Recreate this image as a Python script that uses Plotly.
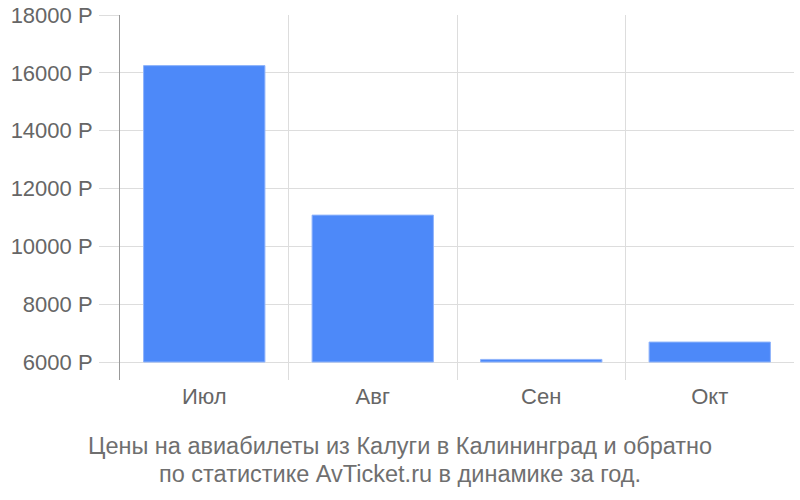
import plotly.graph_objects as go

months = ["Июл", "Авг", "Сен", "Окт"]
prices = [16250, 11080, 6090, 6690]
base_price = 6000
y_ticks = [6000, 8000, 10000, 12000, 14000, 16000, 18000]
title_lines = ["Цены на авиабилеты из Калуги в Калининград и обратно",
               "по статистике AvTicket.ru в динамике за год."]

fig = go.Figure()
fig.add_trace(go.Bar(
    x=months,
    y=[p - base_price for p in prices],
    base=base_price,
    marker=dict(color="#4d89f9", line=dict(color="#8fb4fb", width=1)),
    hoverinfo="skip",
))

font_family = "Liberation Sans, Arial, sans-serif"
for i, line in enumerate(title_lines):
    fig.add_annotation(
        text=line, showarrow=False,
        xref="paper", x=(400 - 120) / 674, xanchor="center",
        yref="paper", y=(380 - (446 + 28 * i)) / 365, yanchor="middle",
        font=dict(family=font_family, size=23.5, color="#6f6f6f"),
    )

fig.update_layout(
    width=800, height=500,
    margin=dict(l=120, r=6, t=15, b=120, autoexpand=False),
    plot_bgcolor="white", paper_bgcolor="white",
    bargap=0.28,
    showlegend=False,
    font=dict(family=font_family, size=22, color="#666666"),
    xaxis=dict(
        type="category",
        tickson="boundaries",
        showgrid=True, gridcolor="#dddddd", gridwidth=1,
        ticks="", showline=False, zeroline=False,
        ticklabelstandoff=1,
        range=[-0.5, 3.5],
        automargin=False,
    ),
    yaxis=dict(
        range=[5378, 18000],
        tickvals=y_ticks,
        ticktext=[f"{v} Р" for v in y_ticks],
        showgrid=True, gridcolor="#dddddd", gridwidth=1,
        ticks="outside", ticklen=20, tickcolor="#dddddd", tickwidth=1,
        showline=True, linecolor="#999999", linewidth=1,
        zeroline=False,
        ticklabelstandoff=2,
        automargin=False,
    ),
)

fig.write_html("out.html", config={"displayModeBar": False},
               post_script="document.body.style.margin='0';")
